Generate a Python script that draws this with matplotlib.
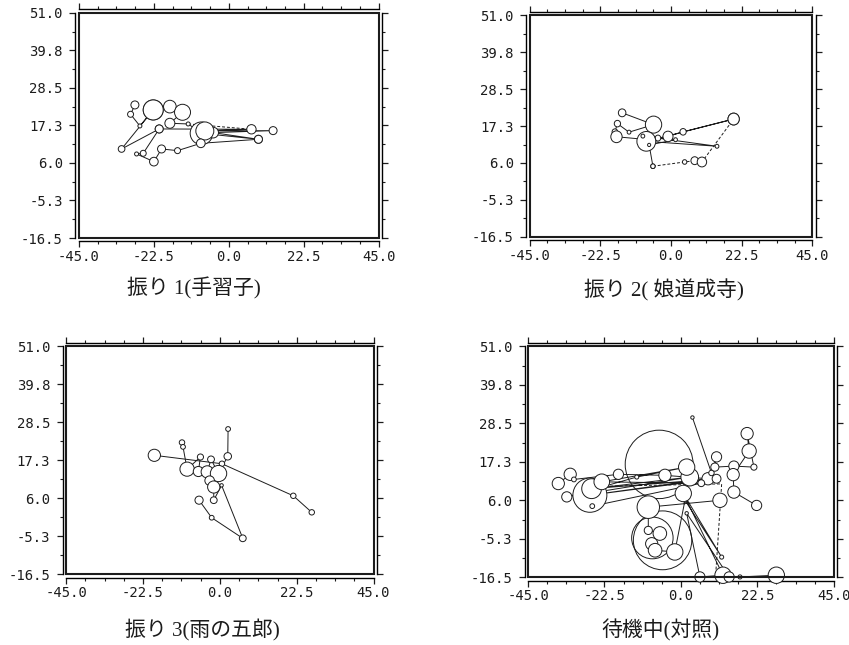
import matplotlib
matplotlib.use("Agg")
import matplotlib.pyplot as plt
from matplotlib.collections import EllipseCollection
from matplotlib.patches import Rectangle
from matplotlib.ticker import AutoMinorLocator

x_ticks = [-45.0, -22.5, 0.0, 22.5, 45.0]
x_labels = ["-45.0", "-22.5", "0.0", "22.5", "45.0"]
y_ticks = [-16.5, -5.25, 6.0, 17.25, 28.5, 39.75, 51.0]
y_labels = ["-16.5", "-5.3", "6.0", "17.3", "28.5", "39.8", "51.0"]

captions = ["振り 1(手習子)", "振り 2( 娘道成寺)", "振り 3(雨の五郎)", "待機中(対照)"]

# panel 1 (手習子)
p1a_x = [-28.2, -29.5, -26.7, -22.7, -17.7, -13.9, -17.7, -12.2, -8.2, 8.9, -4.7, 13.3, -7.2, 6.8, -20.9, -32.2, -22.7]
p1a_y = [23.4, 20.6, 17.1, 21.9, 22.9, 21.2, 17.9, 17.7, 14.9, 13.1, 15.1, 15.7, 15.6, 16.1, 16.2, 10.2, 21.9]
p1a_r = [1.2, 0.9, 0.6, 3.0, 1.9, 2.4, 1.5, 0.6, 3.4, 1.2, 1.6, 1.2, 2.7, 1.4, 1.2, 1.0, 3.0]
p1b_x = [-20.9, -25.7, -27.7, -22.5, -20.2, -15.4, -8.4, 8.9]
p1b_y = [16.2, 8.9, 8.7, 6.4, 10.2, 9.7, 11.9, 13.1]
p1b_r = [1.2, 0.9, 0.6, 1.3, 1.2, 0.9, 1.3, 1.2]
p1_dash_x = [-12.2, 6.8]
p1_dash_y = [17.7, 16.1]

# panel 2 (娘道成寺)
p2a_x = [-15.6, -5.6, -13.4, -17.1, -17.9, -17.4, -9.5, -6.8, -4.2, -1.0, 3.8, 19.9, -7.9, 14.6, -9.0, 1.4, -7.0, -5.8]
p2a_y = [21.3, 17.7, 15.4, 18.0, 15.5, 14.0, 13.3, 13.3, 13.6, 14.1, 15.5, 19.4, 12.6, 11.1, 14.2, 13.1, 11.5, 5.0]
p2a_r = [1.2, 2.6, 0.6, 1.0, 0.9, 1.8, 0.9, 0.9, 0.9, 1.6, 1.0, 1.8, 3.0, 0.6, 0.6, 0.6, 0.5, 0.7]
p2b_x = [-5.8, 4.3, 7.5, 9.8, 19.9]
p2b_y = [5.0, 6.3, 6.7, 6.3, 19.4]
p2b_r = [0.7, 0.7, 1.2, 1.5, 1.8]

# panel 3 (雨の五郎)
p3a_x = [-19.2, 0.6, 21.5, 26.9]
p3a_y = [18.7, 16.2, 6.7, 1.8]
p3a_r = [1.8, 0.8, 0.8, 0.8]
p3b_x = [-11.1, -10.8, -9.6, -5.7, -6.3, -3.7, -2.6, -0.4, 2.3, 2.4]
p3b_y = [22.5, 21.2, 14.6, 18.2, 13.9, 13.8, 17.5, 13.3, 18.4, 26.5]
p3b_r = [0.8, 0.7, 2.1, 0.9, 1.5, 1.8, 1.0, 2.4, 1.1, 0.7]
p3c_x = [-3.0, -1.8, -1.8, 0.5, 6.7, -2.4, -6.1]
p3c_y = [11.2, 9.3, 5.4, 9.8, -5.9, 0.2, 5.4]
p3c_r = [1.4, 1.8, 1.0, 0.5, 1.0, 0.7, 1.2]

# panel 4 (待機中)
p4a_x = [-36.1, -32.6, -31.5, -18.4, -4.7, 8.0, -26.8, 10.5, -26.3, 2.6, -33.6, -13.0, 1.7, -23.3, 6.0, -26.1]
p4a_y = [10.9, 13.6, 12.1, 13.6, 13.3, 12.3, 7.5, 12.3, 9.4, 12.8, 7.0, 12.8, 15.7, 11.4, 11.0, 4.3]
p4a_r = [1.8, 1.8, 0.7, 1.5, 1.8, 1.8, 5.0, 1.3, 2.9, 2.6, 1.5, 0.6, 2.4, 2.3, 1.0, 0.7]
p4b_x = [3.4, 9.0, 10.5, 10.0, 15.6, 21.5, 19.5, 20.1, 15.4, 15.6, 22.3]
p4b_y = [30.2, 14.0, 18.7, 15.7, 16.0, 15.7, 25.5, 20.4, 13.5, 8.4, 4.5]
p4b_r = [0.5, 0.8, 1.5, 1.2, 1.5, 0.9, 1.8, 2.1, 1.8, 1.8, 1.5]
p4c_x = [11.5, -9.6, -9.6, -6.2, -8.6, -7.6, -1.8, 1.2, 12.0, 0.7, 12.4, 5.6, 1.7, 14.2, 17.4, 28.1]
p4c_y = [6.0, 4.0, -2.8, -3.7, -6.7, -8.6, -9.1, 6.0, -10.6, 8.0, -15.9, -16.4, 2.2, -16.4, -16.4, -15.9]
p4c_r = [2.1, 3.3, 1.2, 2.0, 1.8, 2.0, 2.4, 0.6, 0.6, 2.4, 2.4, 1.5, 0.5, 1.5, 0.6, 2.4]
p4_ring_x = [-6.4, -8.4, -5.4]
p4_ring_y = [16.5, -5.0, -5.7]
p4_ring_r = [10.0, 6.1, 8.6]
p4_dash_x = [-28.0, 12.0, 10.2]
p4_dash_y = [10.0, 10.8, -16.4]

INK = "#1c1c1c"


def circles(ax, x, y, r, filled=True):
    d = [2 * v for v in r]
    ec = EllipseCollection(d, d, [0] * len(d), units="xy",
                           offsets=list(zip(x, y)), offset_transform=ax.transData,
                           facecolors="white" if filled else "none",
                           edgecolors=INK, linewidths=0.7,
                           zorder=3 if filled else 2.5)
    ec.set_clip_on(False)
    ax.add_collection(ec)


def path(ax, x, y, r=None, dashed=False):
    ax.plot(x, y, color=INK, lw=0.7, ls=(0, (3, 2)) if dashed else "-", zorder=2)
    if r is not None:
        circles(ax, x, y, r)


def frame(ax):
    ax.set_xlim(-45, 45)
    ax.set_ylim(-16.5, 51)
    for s in ax.spines.values():
        s.set_position(("outward", 2.5))
        s.set_linewidth(1.0)
    ax.add_patch(Rectangle((0, 0), 1, 1, transform=ax.transAxes, fill=False,
                           lw=1.5, ec=INK, clip_on=False, zorder=5))
    ax.set_xticks(x_ticks)
    ax.set_xticklabels(x_labels, fontfamily="DejaVu Sans Mono", fontsize=10)
    ax.set_yticks(y_ticks)
    ax.set_yticklabels(y_labels, fontfamily="DejaVu Sans Mono", fontsize=10)
    ax.xaxis.set_minor_locator(AutoMinorLocator(4))
    ax.yaxis.set_minor_locator(AutoMinorLocator(2))
    ax.tick_params(which="both", direction="out", top=True, right=True,
                   labeltop=False, labelright=False, colors=INK)
    ax.tick_params(which="major", length=4, width=0.9, pad=2)
    ax.tick_params(which="minor", length=2.5, width=0.8)
    ax.tick_params(axis="y", which="major", pad=5)


fig = plt.figure(figsize=(8.49, 6.45), dpi=100)
ax1 = fig.add_axes([0.093, 0.631, 0.353, 0.349])
ax2 = fig.add_axes([0.624, 0.633, 0.333, 0.343])
ax3 = fig.add_axes([0.078, 0.110, 0.362, 0.353])
ax4 = fig.add_axes([0.622, 0.105, 0.360, 0.358])
for ax in (ax1, ax2, ax3, ax4):
    frame(ax)

path(ax1, p1a_x, p1a_y, p1a_r)
path(ax1, p1b_x, p1b_y, p1b_r)
path(ax1, p1_dash_x, p1_dash_y, dashed=True)

path(ax2, p2a_x, p2a_y, p2a_r)
path(ax2, p2b_x, p2b_y, p2b_r, dashed=True)

path(ax3, p3a_x, p3a_y, p3a_r)
path(ax3, p3b_x, p3b_y, p3b_r)
path(ax3, p3c_x, p3c_y, p3c_r)

circles(ax4, p4_ring_x, p4_ring_y, p4_ring_r, filled=False)
path(ax4, p4_dash_x, p4_dash_y, dashed=True)
path(ax4, p4a_x, p4a_y, p4a_r)
path(ax4, p4b_x, p4b_y, p4b_r)
path(ax4, p4c_x, p4c_y, p4c_r)

cap_font = ["Liberation Serif", "Noto Sans CJK JP"]
cap_pos = [(0.228, 0.553), (0.782, 0.550), (0.238, 0.023), (0.778, 0.022)]
for (cx, cy), txt in zip(cap_pos, captions):
    fig.text(cx, cy, txt, ha="center", va="center", fontsize=15,
             family=cap_font, color=INK)

fig.savefig("out.png", dpi=100)
